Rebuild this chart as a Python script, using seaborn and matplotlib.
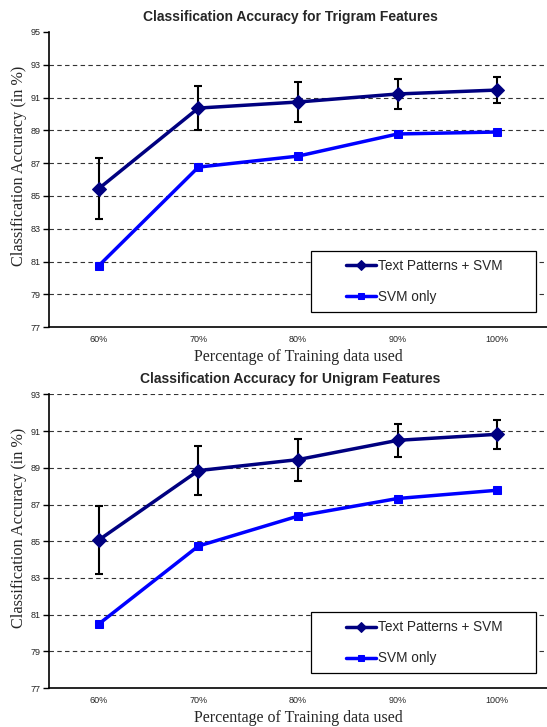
import numpy as np
import pandas as pd
import matplotlib
matplotlib.use("Agg")
import matplotlib.pyplot as plt
from matplotlib.patches import Rectangle
import seaborn as sns

# Données
pourcentages = ["60%", "70%", "80%", "90%", "100%"]

tri_tp_svm = [85.45, 90.36, 90.73, 91.22, 91.46]
tri_tp_err = [1.85, 1.35, 1.2, 0.9, 0.8]
tri_svm = [80.75, 86.76, 87.43, 88.78, 88.9]

uni_tp_svm = [85.07, 88.85, 89.45, 90.5, 90.83]
uni_tp_err = [1.85, 1.35, 1.15, 0.9, 0.8]
uni_svm = [80.49, 84.74, 86.37, 87.33, 87.78]

tri_yticks = [77, 79, 81, 83, 85, 87, 89, 91, 93, 95]
uni_yticks = [77, 79, 81, 83, 85, 87, 89, 91, 93]

sns.set_theme(style="white")
plt.rcParams['font.family'] = ['Liberation Sans', 'DejaVu Sans']

fig = plt.figure(figsize=(5.47, 7.27), dpi=100)
ax1 = fig.add_axes([0.0896, 0.550, 0.9104, 0.406])
ax2 = fig.add_axes([0.0896, 0.0536, 0.9104, 0.4038])


def trace(ax, tp, err, svm, yticks, titre, grille_haut):
    pos = np.arange(len(pourcentages))
    df = pd.DataFrame({"x": pos, "tp": tp, "svm": svm})

    ax.errorbar(pos, tp, yerr=err, fmt="none", ecolor="black",
                elinewidth=1.5, capsize=3, capthick=1.5, zorder=2)
    sns.lineplot(data=df, x="x", y="tp", ax=ax, color="#000080", lw=2.5,
                 marker="D", markersize=7, markeredgecolor="#000080",
                 label="Text Patterns + SVM", zorder=3)
    sns.lineplot(data=df, x="x", y="svm", ax=ax, color="#0000FF", lw=2.5,
                 marker="s", markersize=5.5, markeredgecolor="#0000FF",
                 label="SVM only", zorder=3)

    ax.set_xlim(-0.5, len(pourcentages) - 0.5)
    ax.set_ylim(yticks[0], yticks[-1])
    ax.set_yticks(yticks)
    ax.set_yticklabels([str(t) for t in yticks], fontsize=6.5)
    ax.set_xticks(pos)
    ax.set_xticklabels(pourcentages, fontsize=6.5)
    ax.set_xticks(np.arange(-0.5, len(pourcentages)), minor=True)
    ax.tick_params(axis="x", which="major", length=0, pad=6)
    ax.tick_params(axis="x", which="minor", length=4, width=1, color="black",
                   direction="out")
    ax.tick_params(axis="y", length=4, width=1, color="black", direction="out",
                   left=True, pad=2)

    ax.yaxis.grid(True, linestyle=(0, (4, 3)), color="#333333", lw=0.8)
    ax.set_axisbelow(True)
    lignes = ax.get_ygridlines()
    lignes[0].set_visible(False)
    if not grille_haut:
        lignes[-1].set_visible(False)

    for s in ["top", "right"]:
        ax.spines[s].set_visible(False)
    for s in ["left", "bottom"]:
        ax.spines[s].set_color("black")
        ax.spines[s].set_linewidth(1.2)

    ax.set_xlabel("Percentage of Training data used", family="Liberation Serif",
                  fontsize=11.5, labelpad=3)
    ax.set_ylabel("Classification Accuracy (in %)", family="Liberation Serif",
                  fontsize=11.7)
    ax.yaxis.set_label_coords(-0.044, 0.545)
    ax.set_title(titre, fontsize=10, fontweight="bold", x=0.484, pad=8)

    # cadre de la légende dessiné à part, contenu centré comme dans l'original
    ax.add_patch(Rectangle((0.527, 0.052), 0.451, 0.206, transform=ax.transAxes,
                           facecolor="white", edgecolor="black", lw=0.9,
                           zorder=4))
    leg = ax.legend(loc="center left", bbox_to_anchor=(0.596, 0.154),
                    fontsize=9.8, frameon=False, handlelength=2.2,
                    labelspacing=1.25, borderpad=0, borderaxespad=0,
                    handletextpad=0.15, markerscale=0.7)
    leg.set_zorder(5)


trace(ax1, tri_tp_svm, tri_tp_err, tri_svm, tri_yticks,
      "Classification Accuracy for Trigram Features", False)
trace(ax2, uni_tp_svm, uni_tp_err, uni_svm, uni_yticks,
      "Classification Accuracy for Unigram Features", True)

fig.savefig("out.png", dpi=100)
